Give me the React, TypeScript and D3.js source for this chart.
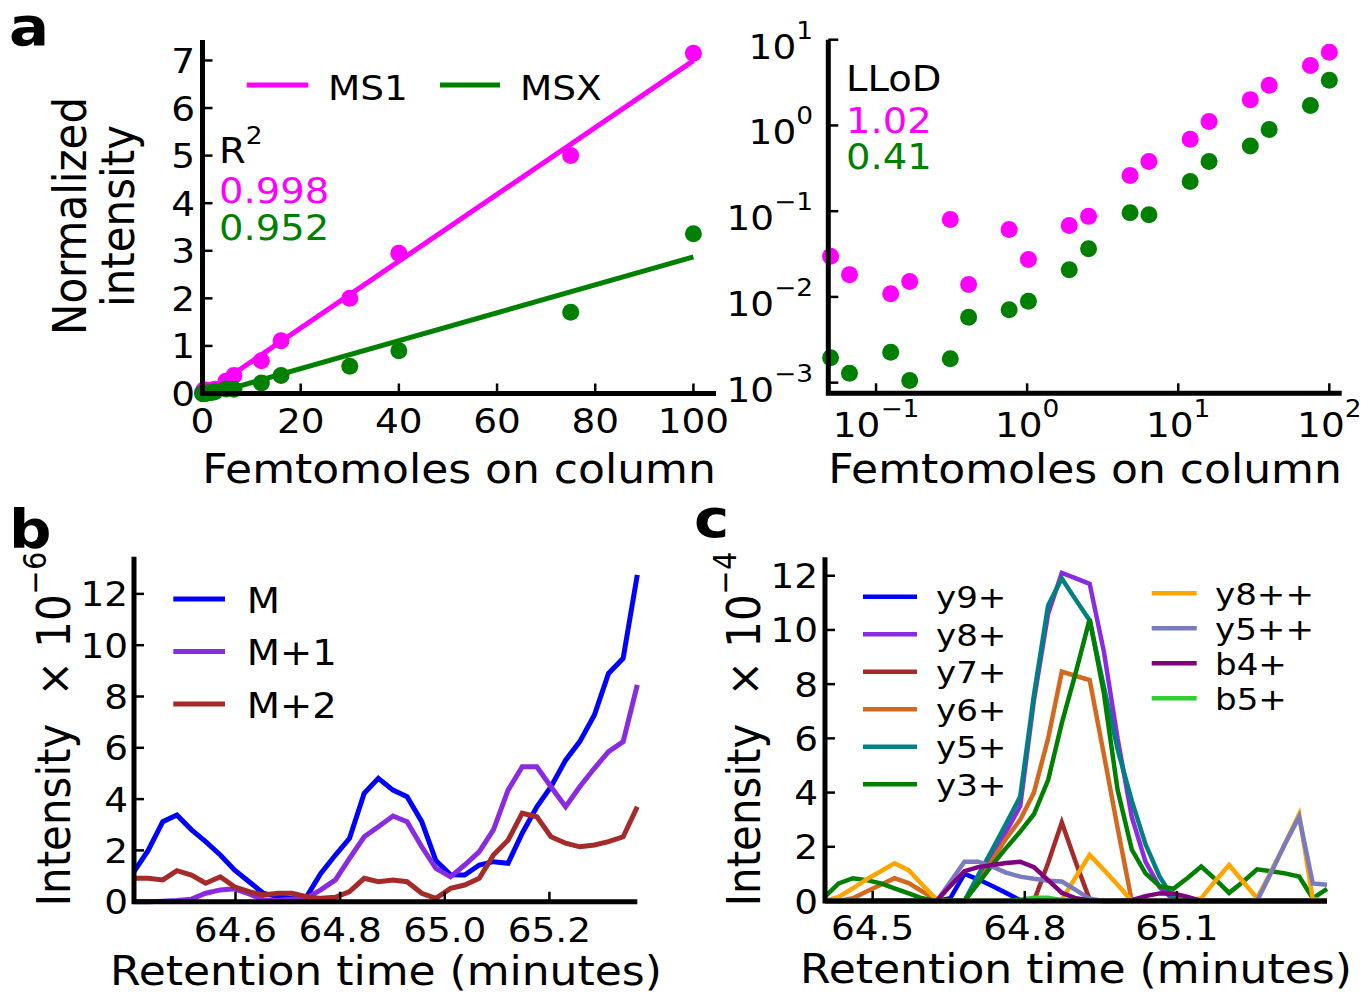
import React from "react";
import * as d3 from "d3";

const W = 1368;
const H = 992;
const FONT = "'DejaVu Sans', Verdana, sans-serif";
const SX = 1.1; // the figure's glyphs are a bit wide

// ---------- panel a : calibration ----------
const femtomoles = [0.05, 0.0667, 0.125, 0.167, 0.31, 0.41, 0.76, 1.02, 1.9, 2.55, 4.8, 6.4, 12, 16, 30, 40, 75, 100];
const ms1Intensity = [0.0299, 0.0182, 0.0109, 0.0151, 0.08, 0.014, 0.061, 0.0273, 0.068, 0.087, 0.26, 0.38, 0.69, 1.11, 2.0, 2.95, 5.0, 7.15];
const msxIntensity = [0.00195, 0.00129, 0.00226, 0.00106, 0.0019, 0.0058, 0.0071, 0.0089, 0.0207, 0.0364, 0.096, 0.091, 0.222, 0.38, 0.574, 0.898, 1.71, 3.36];
const calSeries = ["MS1", "MSX"];
const r2Values = ["0.998", "0.952"];
const llodValues = ["1.02", "0.41"];
const linTicksX = [0, 20, 40, 60, 80, 100];
const linTicksY = [0, 1, 2, 3, 4, 5, 6, 7];
const logExpX = [-1, 0, 1, 2];
const logExpY = [-3, -2, -1, 0, 1];

// ---------- shared scan times (minutes) ----------
const scanTimes = [
  64.406, 64.433, 64.461, 64.488, 64.516, 64.543, 64.571, 64.598, 64.626, 64.653,
  64.681, 64.708, 64.736, 64.763, 64.791, 64.818, 64.846, 64.873, 64.901, 64.928,
  64.956, 64.983, 65.011, 65.038, 65.066, 65.093, 65.121, 65.148, 65.176, 65.203,
  65.231, 65.258, 65.286, 65.313, 65.341, 65.368, 65.396,
];

// ---------- panel b : isotopes ----------
const isoNames = ["M", "M+1", "M+2"];
const isoM = [1.17, 2.0, 3.12, 3.38, 2.8, 2.34, 1.82, 1.24, 0.78, 0.33, 0.2, 0.13, 0.2, 1.1, 1.82, 2.47, 4.23, 4.81, 4.35, 4.09, 3.12, 1.6, 1.05, 1.04, 1.43, 1.56, 1.5, 2.67, 3.7, 4.48, 5.52, 6.24, 7.28, 8.9, 9.49, 12.74];
const isoM1 = [0, 0, 0.02, 0.05, 0.1, 0.33, 0.46, 0.5, 0.3, 0.08, 0.05, 0.1, 0.15, 0.46, 0.85, 1.69, 2.53, 2.92, 3.34, 3.12, 2.14, 1.3, 0.97, 1.43, 1.95, 2.8, 4.35, 5.26, 5.26, 4.48, 3.7, 4.48, 5.2, 5.85, 6.24, 8.45];
const isoM2 = [0.91, 0.91, 0.85, 1.21, 1.04, 0.72, 0.97, 0.58, 0.39, 0.26, 0.33, 0.33, 0.2, 0.13, 0.17, 0.39, 0.91, 0.78, 0.85, 0.78, 0.33, 0.13, 0.52, 0.65, 0.91, 1.82, 2.4, 3.45, 3.31, 2.53, 2.28, 2.14, 2.21, 2.34, 2.53, 3.7];
const bTicksX = [64.6, 64.8, 65.0, 65.2];
const bTicksY = [0, 2, 4, 6, 8, 10, 12];

// ---------- panel c : fragments ----------
const fragNames = ["y9+", "y8+", "y7+", "y6+", "y5+", "y3+", "y8++", "y5++", "b4+", "b5+"];
const y9p = [0, 0, 0, 0, 0, 0, 0, 0, 0, 0.1, 1.0, 0.8, 0.55, 0.3, 0.03, 0, 0, 0, 0, 0, 0, 0, 0, 0, 0, 0, 0, 0, 0, 0, 0, 0, 0, 0, 0, 0, 0];
const y8p = [0, 0, 0, 0, 0, 0, 0, 0, 0, 0, 0, 0.8, 1.6, 2.55, 3.5, 7.4, 10.6, 12.1, 11.9, 11.7, 9.2, 6.0, 3.1, 1.45, 0.5, 0.05, 0, 0, 0, 0, 0, 0, 0, 0, 0, 0, 0];
const y7p = [0, 0, 0, 0, 0, 0, 0, 0, 0, 0, 0, 0, 0, 0, 0, 0, 1.4, 2.9, 1.4, 0.05, 0, 0, 0, 0, 0, 0, 0, 0, 0, 0, 0, 0, 0, 0, 0, 0, 0];
const y6p = [0, 0, 0.1, 0.35, 0.6, 0.84, 0.66, 0.35, 0.05, 0, 0, 0.7, 1.5, 2.3, 3.0, 4.0, 6.0, 8.46, 8.3, 8.15, 5.4, 2.7, 0, 0, 0, 0, 0, 0, 0, 0, 0, 0, 0, 0, 0, 0, 0];
const y5p = [0, 0, 0, 0, 0, 0, 0, 0, 0, 0, 0, 0.95, 1.9, 2.85, 3.85, 7.6, 10.9, 11.9, 11.1, 10.35, 7.9, 5.6, 3.7, 2.1, 0.9, 0.1, 0, 0, 0, 0, 0, 0, 0, 0, 0, 0, 0];
const y3p = [0.16, 0.65, 0.84, 0.77, 0.65, 0.47, 0.28, 0.1, 0, 0, 0, 0.65, 1.33, 1.95, 2.56, 3.2, 4.46, 6.56, 8.46, 10.4, 7.66, 4.1, 1.9, 1.02, 0.55, 0.45, 0.85, 1.27, 0.8, 0.3, 0.72, 1.17, 1.1, 1.02, 0.9, 0.1, 0.45];
const y8pp = [0, 0.15, 0.47, 0.8, 1.1, 1.39, 1.14, 0.6, 0.05, 0, 0, 0, 0, 0, 0, 0, 0, 0.05, 0.9, 1.7, 1.15, 0.6, 0, 0, 0, 0, 0, 0.1, 0.75, 1.33, 0.7, 0.1, 1.1, 2.1, 3.2, 0.07, 0];
const y5pp = [0, 0, 0, 0, 0, 0, 0, 0, 0, 0.7, 1.45, 1.45, 1.27, 1.05, 0.9, 0.82, 0.75, 0.72, 0.4, 0.08, 0, 0, 0, 0, 0, 0, 0, 0, 0, 0, 0, 0, 1.05, 2.1, 3.1, 0.65, 0.6];
const b4p = [0, 0, 0, 0, 0, 0, 0, 0, 0, 0.55, 1.1, 1.25, 1.33, 1.4, 1.45, 1.25, 0.77, 0.3, 0.1, 0.02, 0, 0, 0.03, 0.18, 0.28, 0.28, 0.15, 0, 0, 0, 0, 0, 0, 0, 0, 0, 0];
const b5p = [0, 0, 0, 0, 0, 0, 0, 0, 0, 0, 0, 0, 0, 0, 0.05, 0.12, 0.12, 0.03, 0, 0, 0, 0, 0, 0, 0, 0, 0, 0, 0, 0, 0, 0, 0, 0, 0, 0, 0];
const fragValues = [y9p, y8p, y7p, y6p, y5p, y3p, y8pp, y5pp, b4p, b5p];
const cTicksX = [64.5, 64.8, 65.1];
const cTicksY = [0, 2, 4, 6, 8, 10, 12];

// ---------- styles ----------
const calColors = ["#ff00ff", "#008000"];
const isoColors = ["#0000ff", "#8a2be2", "#a52a2a"];
const fragColors = ["#0000ff", "#8a2be2", "#a52a2a", "#d2691e", "#008080", "#008000", "#ffa500", "#7a7abf", "#800080", "#32cd32"];

function fitLine(xs: number[], ys: number[]) {
  const mx = d3.mean(xs) as number;
  const my = d3.mean(ys) as number;
  const sxy = d3.sum(xs, (x, i) => (x - mx) * (ys[i] - my));
  const sxx = d3.sum(xs, (x) => (x - mx) * (x - mx));
  const slope = sxy / sxx;
  return { slope, intercept: my - slope * mx };
}

function Txt({ x, y, size, anchor = "start", fill = "#000", weight = "normal", rotate = false, children }: any) {
  return (
    <text
      transform={`translate(${x},${y}) scale(${SX},1)${rotate ? " rotate(-90)" : ""}`}
      fontSize={size}
      textAnchor={anchor}
      fill={fill}
      fontWeight={weight}
    >
      {children}
    </text>
  );
}

const supText = (e: number) => (e < 0 ? "\u2212" + -e : String(e));

function Frame({ left, right, top, bottom }: any) {
  return <path d={`M${left},${top}V${bottom}H${right}`} fill="none" stroke="#000" strokeWidth={5} />;
}

function PanelALinear() {
  const x = d3.scaleLinear().domain([0, 104.6]).range([202.5, 716]);
  const y = d3.scaleLinear().domain([0, 7.43]).range([393.5, 40]);
  const [x0, x1] = d3.extent(femtomoles) as [number, number];
  const series = [ms1Intensity, msxIntensity];
  return (
    <g>
      {series.map((ys, k) => {
        const f = fitLine(femtomoles, ys);
        return (
          <line key={"f" + k} x1={x(x0)} y1={y(f.slope * x0 + f.intercept)} x2={x(x1)} y2={y(f.slope * x1 + f.intercept)}
            stroke={calColors[k]} strokeWidth={5} />
        );
      })}
      {series.map((ys, k) =>
        ys.map((v, i) => <circle key={k + "-" + i} cx={x(femtomoles[i])} cy={y(v)} r={8.5} fill={calColors[k]} />)
      )}
      <Frame left={202.5} right={716} top={40} bottom={393.5} />
      {linTicksX.map((t) => (
        <g key={"x" + t}>
          <line x1={x(t)} x2={x(t)} y1={393.5} y2={383.5} stroke="#000" strokeWidth={2.5} />
          <Txt x={x(t)} y={433} size={34} anchor="middle">{t}</Txt>
        </g>
      ))}
      {linTicksY.map((t) => (
        <g key={"y" + t}>
          <line x1={202.5} x2={212.5} y1={y(t)} y2={y(t)} stroke="#000" strokeWidth={2.5} />
          <Txt x={195} y={y(t) + 12.5} size={34} anchor="end">{t}</Txt>
        </g>
      ))}
      <Txt x={459} y={483} size={40} anchor="middle">Femtomoles on column</Txt>
      <Txt x={86} y={216} size={42} anchor="middle" rotate>Normalized</Txt>
      <Txt x={134} y={216} size={42} anchor="middle" rotate>intensity</Txt>
      {/* legend */}
      <line x1={246.7} x2={308.3} y1={85} y2={85} stroke={calColors[0]} strokeWidth={5} />
      <Txt x={328} y={100} size={34}>{calSeries[0]}</Txt>
      <line x1={440} x2={500} y1={85} y2={85} stroke={calColors[1]} strokeWidth={5} />
      <Txt x={520} y={100} size={34}>{calSeries[1]}</Txt>
      {/* R^2 */}
      <Txt x={219} y={162.7} size={35}>R<tspan dy={-19} fontSize={24}>2</tspan></Txt>
      {r2Values.map((v, k) => (
        <Txt key={v} x={219} y={203.3 + k * 36.7} size={35} fill={calColors[k]}>{v}</Txt>
      ))}
    </g>
  );
}

function PanelALog() {
  const x = d3.scaleLog().domain([Math.pow(10, -1.316), Math.pow(10, 2.082)]).range([828.3, 1341.7]);
  const y = d3.scaleLog().domain([Math.pow(10, -3.124), 10]).range([393.3, 39.7]);
  const series = [ms1Intensity, msxIntensity];
  return (
    <g>
      {series.map((ys, k) =>
        ys.map((v, i) => <circle key={k + "-" + i} cx={x(femtomoles[i])} cy={y(v)} r={8.5} fill={calColors[k]} />)
      )}
      <Frame left={828.3} right={1341.7} top={39.7} bottom={393.3} />
      {logExpX.map((e) => {
        const px = x(Math.pow(10, e));
        return (
          <g key={"x" + e}>
            <line x1={px} x2={px} y1={393.3} y2={383.3} stroke="#000" strokeWidth={2.5} />
            <Txt x={px} y={436.7} size={34} anchor="middle">10<tspan dy={-20} fontSize={24}>{supText(e)}</tspan></Txt>
          </g>
        );
      })}
      {logExpY.map((e) => {
        const py = y(Math.pow(10, e));
        return (
          <g key={"y" + e}>
            <line x1={828.3} x2={838.3} y1={py} y2={py} stroke="#000" strokeWidth={2.5} />
            <Txt x={813} y={py + 19} size={34} anchor="end">10<tspan dy={-20} fontSize={24}>{supText(e)}</tspan></Txt>
          </g>
        );
      })}
      <Txt x={1085} y={483} size={40} anchor="middle">Femtomoles on column</Txt>
      <Txt x={846} y={90.7} size={35}>LLoD</Txt>
      {llodValues.map((v, k) => (
        <Txt key={v} x={846} y={133.3 + k * 36} size={35} fill={calColors[k]}>{v}</Txt>
      ))}
    </g>
  );
}

function PanelB() {
  const times = scanTimes.slice(0, isoM.length);
  const x = d3.scaleLinear().domain(d3.extent(times) as [number, number]).range([134, 637.3]);
  const y = d3.scaleLinear().domain([0, 13.45]).range([901.7, 556.7]);
  const line = d3.line<number>().x((_, i) => x(times[i])).y((v) => y(v));
  const series = [isoM, isoM1, isoM2];
  return (
    <g>
      {series.map((s, k) => (
        <path key={k} d={line(s) as string} fill="none" stroke={isoColors[k]} strokeWidth={5} strokeLinejoin="miter" />
      ))}
      <Frame left={134} right={637.3} top={556.7} bottom={901.7} />
      {bTicksX.map((t) => (
        <g key={"x" + t}>
          <line x1={x(t)} x2={x(t)} y1={901.7} y2={891.7} stroke="#000" strokeWidth={2.5} />
          <Txt x={x(t)} y={941.7} size={34} anchor="middle">{t.toFixed(1)}</Txt>
        </g>
      ))}
      {bTicksY.map((t) => (
        <g key={"y" + t}>
          <line x1={134} x2={144} y1={y(t)} y2={y(t)} stroke="#000" strokeWidth={2.5} />
          <Txt x={128} y={y(t) + 12.5} size={34} anchor="end">{t}</Txt>
        </g>
      ))}
      <Txt x={386} y={985} size={40} anchor="middle">Retention time (minutes)</Txt>
      <Txt x={70} y={729} size={42} anchor="middle" rotate>
        Intensity<tspan dx={14}> ×</tspan> 10<tspan dy={-22} fontSize={29}>{supText(-6)}</tspan>
      </Txt>
      {isoNames.map((n, k) => (
        <g key={n}>
          <line x1={173.3} x2={225} y1={599 + k * 52.5} y2={599 + k * 52.5} stroke={isoColors[k]} strokeWidth={5} />
          <Txt x={246.7} y={612.5 + k * 52.5} size={35}>{n}</Txt>
        </g>
      ))}
    </g>
  );
}

function PanelC() {
  const x = d3.scaleLinear().domain(d3.extent(scanTimes) as [number, number]).range([825, 1327]);
  const y = d3.scaleLinear().domain([0, 12.68]).range([901, 557.3]);
  const line = d3.line<number>().x((_, i) => x(scanTimes[i])).y((v) => y(v));
  return (
    <g>
      {fragValues.map((s, k) => (
        <path key={k} d={line(s) as string} fill="none" stroke={fragColors[k]} strokeWidth={4.5} strokeLinejoin="miter" />
      ))}
      <Frame left={825} right={1327} top={557.3} bottom={901} />
      {cTicksX.map((t) => (
        <g key={"x" + t}>
          <line x1={x(t)} x2={x(t)} y1={901} y2={891} stroke="#000" strokeWidth={2.5} />
          <Txt x={x(t)} y={940} size={34} anchor="middle">{t.toFixed(1)}</Txt>
        </g>
      ))}
      {cTicksY.map((t) => (
        <g key={"y" + t}>
          <line x1={825} x2={835} y1={y(t)} y2={y(t)} stroke="#000" strokeWidth={2.5} />
          <Txt x={818} y={y(t) + 12.5} size={34} anchor="end">{t}</Txt>
        </g>
      ))}
      <Txt x={1076} y={983} size={40} anchor="middle">Retention time (minutes)</Txt>
      <Txt x={760} y={729} size={42} anchor="middle" rotate>
        Intensity<tspan dx={14}> ×</tspan> 10<tspan dy={-22} fontSize={29}>{supText(-4)}</tspan>
      </Txt>
      {fragNames.map((n, k) => {
        const col = k < 6 ? 0 : 1;
        const row = col === 0 ? k : k - 6;
        const ly = col === 0 ? 596.7 + row * 37.5 : 593.3 + row * 35;
        const lx = col === 0 ? 863 : 1151.7;
        return (
          <g key={n}>
            <line x1={lx} x2={lx + (col === 0 ? 54 : 45)} y1={ly} y2={ly} stroke={fragColors[k]} strokeWidth={4.5} />
            <Txt x={col === 0 ? 936 : 1215} y={ly + 11.5} size={31}>{n}</Txt>
          </g>
        );
      })}
    </g>
  );
}

export default function App() {
  return (
    <svg width={W} height={H} viewBox={`0 0 ${W} ${H}`} fontFamily={FONT}
      style={{ position: "absolute", left: 0, top: 0, background: "#fff", display: "block" }}>
      <rect width={W} height={H} fill="#fff" />
      <PanelALinear />
      <PanelALog />
      <PanelB />
      <PanelC />
      <Txt x={9} y={45} size={54} weight="bold">a</Txt>
      <Txt x={9} y={548} size={54} weight="bold">b</Txt>
      <Txt x={694} y={537} size={54} weight="bold">c</Txt>
    </svg>
  );
}
